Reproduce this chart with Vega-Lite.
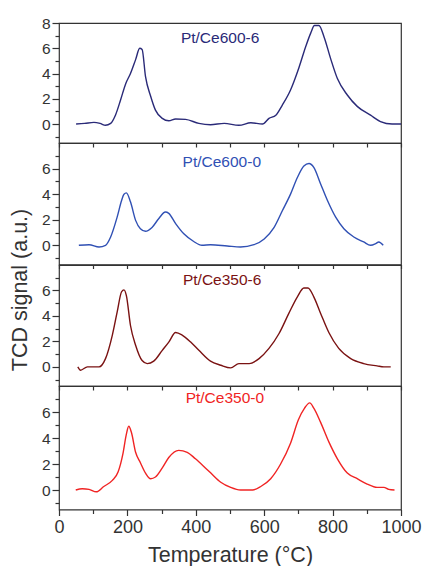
{
  "$schema": "https://vega.github.io/schema/vega-lite/v6.json",
  "padding": {"left": 8, "top": 15, "right": 3, "bottom": 0},
  "spacing": 0,
  "bounds": "flush",
  "config": {
    "view": {"stroke": "#333333", "strokeWidth": 1.2},
    "font": "Liberation Sans",
    "axis": {"grid": false, "domain": false, "tickColor": "#333333", "labelColor": "#333333", "titleColor": "#333333", "labelFont": "Liberation Sans", "titleFont": "Liberation Sans", "titleFontWeight": "normal", "labelOverlap": false, "labelFlush": false, "tickWidth": 1.2},
    "line": {"strokeWidth": 1.4, "interpolate": "monotone"}
  },
  "datasets": {
    "p1": [
      {"t":50,"v":0},{"t":75,"v":0.05},{"t":102,"v":0.13},{"t":120,"v":0.05},{"t":136,"v":-0.1},{"t":151,"v":0.05},{"t":165,"v":0.7},{"t":180,"v":1.9},{"t":195,"v":3.2},{"t":209,"v":4.0},{"t":224,"v":5.1},{"t":236,"v":6.0},{"t":243,"v":5.9},{"t":253,"v":3.75},{"t":268,"v":2.2},{"t":282,"v":1.1},{"t":302,"v":0.45},{"t":321,"v":0.26},{"t":341,"v":0.4},{"t":370,"v":0.37},{"t":409,"v":0.05},{"t":443,"v":-0.05},{"t":483,"v":0.05},{"t":526,"v":-0.1},{"t":561,"v":0.1},{"t":595,"v":0},{"t":614,"v":0.45},{"t":634,"v":0.7},{"t":653,"v":1.5},{"t":677,"v":2.7},{"t":702,"v":4.5},{"t":721,"v":6.1},{"t":736,"v":7.2},{"t":747,"v":7.8},{"t":760,"v":7.8},{"t":775,"v":6.9},{"t":794,"v":5.2},{"t":814,"v":3.6},{"t":843,"v":2.3},{"t":872,"v":1.4},{"t":911,"v":0.7},{"t":940,"v":0.2},{"t":974,"v":0},{"t":1000,"v":0}
    ],
    "p2": [
      {"t":58,"v":0},{"t":88,"v":0.05},{"t":117,"v":-0.13},{"t":136,"v":0},{"t":151,"v":0.65},{"t":170,"v":2.2},{"t":183,"v":3.5},{"t":190,"v":4.0},{"t":197,"v":4.1},{"t":209,"v":3.4},{"t":224,"v":1.95},{"t":238,"v":1.3},{"t":253,"v":1.1},{"t":272,"v":1.4},{"t":292,"v":2.1},{"t":311,"v":2.6},{"t":321,"v":2.5},{"t":341,"v":1.7},{"t":365,"v":0.9},{"t":394,"v":0.3},{"t":418,"v":0},{"t":443,"v":0.05},{"t":492,"v":-0.05},{"t":531,"v":-0.13},{"t":570,"v":0.05},{"t":600,"v":0.5},{"t":629,"v":1.4},{"t":653,"v":2.7},{"t":677,"v":4.0},{"t":697,"v":5.3},{"t":716,"v":6.2},{"t":731,"v":6.4},{"t":745,"v":6.1},{"t":765,"v":4.8},{"t":785,"v":3.5},{"t":809,"v":2.2},{"t":833,"v":1.3},{"t":862,"v":0.65},{"t":891,"v":0.26},{"t":911,"v":0},{"t":926,"v":0.13},{"t":935,"v":0.26},{"t":948,"v":0}
    ],
    "p3": [
      {"t":55,"v":0},{"t":63,"v":-0.26},{"t":83,"v":0},{"t":117,"v":0},{"t":136,"v":0.65},{"t":156,"v":2.5},{"t":170,"v":4.3},{"t":183,"v":5.9},{"t":190,"v":6.05},{"t":197,"v":5.6},{"t":209,"v":3.25},{"t":224,"v":1.7},{"t":243,"v":0.5},{"t":258,"v":0.26},{"t":277,"v":0.45},{"t":302,"v":1.3},{"t":321,"v":1.95},{"t":341,"v":2.7},{"t":360,"v":2.5},{"t":385,"v":1.95},{"t":409,"v":1.3},{"t":443,"v":0.45},{"t":473,"v":0.13},{"t":502,"v":-0.08},{"t":526,"v":0.26},{"t":556,"v":0.26},{"t":585,"v":0.65},{"t":614,"v":1.45},{"t":643,"v":2.6},{"t":672,"v":4.2},{"t":697,"v":5.5},{"t":716,"v":6.2},{"t":728,"v":6.2},{"t":745,"v":5.5},{"t":765,"v":4.2},{"t":789,"v":2.7},{"t":818,"v":1.45},{"t":853,"v":0.65},{"t":891,"v":0.26},{"t":930,"v":0.08},{"t":950,"v":0},{"t":970,"v":0}
    ],
    "p4": [
      {"t":49,"v":0},{"t":68,"v":0.1},{"t":88,"v":0.05},{"t":109,"v":-0.14},{"t":131,"v":0.27},{"t":156,"v":0.74},{"t":173,"v":1.4},{"t":187,"v":2.8},{"t":197,"v":4.3},{"t":204,"v":4.9},{"t":212,"v":4.4},{"t":224,"v":2.9},{"t":238,"v":2.1},{"t":253,"v":1.3},{"t":268,"v":0.87},{"t":282,"v":1.0},{"t":302,"v":1.7},{"t":321,"v":2.5},{"t":350,"v":3.05},{"t":375,"v":2.9},{"t":399,"v":2.4},{"t":428,"v":1.7},{"t":444,"v":1.3},{"t":473,"v":0.6},{"t":502,"v":0.2},{"t":531,"v":0},{"t":566,"v":0},{"t":590,"v":0.27},{"t":619,"v":0.87},{"t":648,"v":2.0},{"t":677,"v":3.6},{"t":700,"v":5.4},{"t":718,"v":6.3},{"t":733,"v":6.7},{"t":745,"v":6.3},{"t":765,"v":5.2},{"t":789,"v":3.7},{"t":814,"v":2.4},{"t":843,"v":1.3},{"t":872,"v":0.87},{"t":901,"v":0.46},{"t":930,"v":0.2},{"t":950,"v":0.2},{"t":964,"v":0.05},{"t":981,"v":0}
    ]
  },
  "vconcat": [
    {
      "width": 342, "height": 120,
      "encoding": {
        "x": {"type": "quantitative", "scale": {"domain": [0, 1000], "nice": false}, "axis": {"values": [0,100,200,300,400,500,600,700,800,900,1000], "labels": false, "title": null, "tickSize": 4}},
        "y": {"type": "quantitative", "scale": {"domain": [-1.5, 8], "nice": false, "zero": false}, "axis": {"values": [-1,0,1,2,3,4,5,6,7,8], "labelExpr": "(datum.value == 0 || datum.value == 2 || datum.value == 4 || datum.value == 6 || datum.value == 8) ? datum.label : ''", "tickSize": {"condition": {"test": "datum.value % 2 == 0", "value": 7}, "value": 4}, "labelFontSize": 15.5, "labelPadding": 2, "title": null}}
      },
      "layer": [
        {
          "data": {"name": "p1"},
          "mark": {"type": "line", "color": "#2a2a78"},
          "encoding": {"x": {"field": "t"}, "y": {"field": "v"}}
        },
        {
          "data": {"values": [{"label": "Pt/Ce600-6"}]},
          "mark": {"type": "text", "color": "#2a2a78", "fontSize": 15.5, "baseline": "middle", "align": "center"},
          "encoding": {"x": {"datum": 471}, "y": {"datum": 6.81}, "text": {"field": "label"}}
        }
      ]
    },
    {
      "width": 342, "height": 121.5,
      "encoding": {
        "x": {"type": "quantitative", "scale": {"domain": [0, 1000], "nice": false}, "axis": {"values": [0,100,200,300,400,500,600,700,800,900,1000], "labels": false, "title": null, "tickSize": 4}},
        "y": {"type": "quantitative", "scale": {"domain": [-1.5, 8], "nice": false, "zero": false}, "axis": {"values": [-1,0,1,2,3,4,5,6,7], "labelExpr": "(datum.value == 0 || datum.value == 2 || datum.value == 4 || datum.value == 6) ? datum.label : ''", "tickSize": {"condition": {"test": "datum.value % 2 == 0", "value": 7}, "value": 4}, "labelFontSize": 15.5, "labelPadding": 2, "title": null}}
      },
      "layer": [
        {
          "data": {"name": "p2"},
          "mark": {"type": "line", "color": "#3050b4"},
          "encoding": {"x": {"field": "t"}, "y": {"field": "v"}}
        },
        {
          "data": {"values": [{"label": "Pt/Ce600-0"}]},
          "mark": {"type": "text", "color": "#3050b4", "fontSize": 15.5, "baseline": "middle", "align": "center"},
          "encoding": {"x": {"datum": 476}, "y": {"datum": 6.51}, "text": {"field": "label"}}
        }
      ]
    },
    {
      "width": 342, "height": 121,
      "encoding": {
        "x": {"type": "quantitative", "scale": {"domain": [0, 1000], "nice": false}, "axis": {"values": [0,100,200,300,400,500,600,700,800,900,1000], "labels": false, "title": null, "tickSize": 4}},
        "y": {"type": "quantitative", "scale": {"domain": [-1.5, 8], "nice": false, "zero": false}, "axis": {"values": [-1,0,1,2,3,4,5,6,7], "labelExpr": "(datum.value == 0 || datum.value == 2 || datum.value == 4 || datum.value == 6) ? datum.label : ''", "tickSize": {"condition": {"test": "datum.value % 2 == 0", "value": 7}, "value": 4}, "labelFontSize": 15.5, "labelPadding": 2, "title": "TCD signal (a.u.)", "titleFontSize": 21.5, "titlePadding": 10, "titleY": 24.5}}
      },
      "layer": [
        {
          "data": {"name": "p3"},
          "mark": {"type": "line", "color": "#7a1212"},
          "encoding": {"x": {"field": "t"}, "y": {"field": "v"}}
        },
        {
          "data": {"values": [{"label": "Pt/Ce350-6"}]},
          "mark": {"type": "text", "color": "#7a1212", "fontSize": 15.5, "baseline": "middle", "align": "center"},
          "encoding": {"x": {"datum": 477}, "y": {"datum": 6.86}, "text": {"field": "label"}}
        }
      ]
    },
    {
      "width": 342, "height": 123.5,
      "encoding": {
        "x": {"type": "quantitative", "scale": {"domain": [0, 1000], "nice": false}, "axis": {"values": [0,100,200,300,400,500,600,700,800,900,1000], "format": "d", "labelExpr": "datum.value % 200 == 0 ? datum.label : ''", "tickSize": {"condition": {"test": "datum.value % 200 == 0", "value": 6}, "value": 4}, "labelFontSize": 18, "labelPadding": 3, "title": "Temperature (°C)", "titleFontSize": 21.5, "titlePadding": 8}},
        "y": {"type": "quantitative", "scale": {"domain": [-1.5, 8], "nice": false, "zero": false}, "axis": {"values": [-1,0,1,2,3,4,5,6,7], "labelExpr": "(datum.value == 0 || datum.value == 2 || datum.value == 4 || datum.value == 6) ? datum.label : ''", "tickSize": {"condition": {"test": "datum.value % 2 == 0", "value": 7}, "value": 4}, "labelFontSize": 15.5, "labelPadding": 2, "title": null}}
      },
      "layer": [
        {
          "data": {"name": "p4"},
          "mark": {"type": "line", "color": "#f02424"},
          "encoding": {"x": {"field": "t"}, "y": {"field": "v"}}
        },
        {
          "data": {"values": [{"label": "Pt/Ce350-0"}]},
          "mark": {"type": "text", "color": "#f02424", "fontSize": 15.5, "baseline": "middle", "align": "center"},
          "encoding": {"x": {"datum": 485}, "y": {"datum": 7.04}, "text": {"field": "label"}}
        }
      ]
    }
  ]
}
